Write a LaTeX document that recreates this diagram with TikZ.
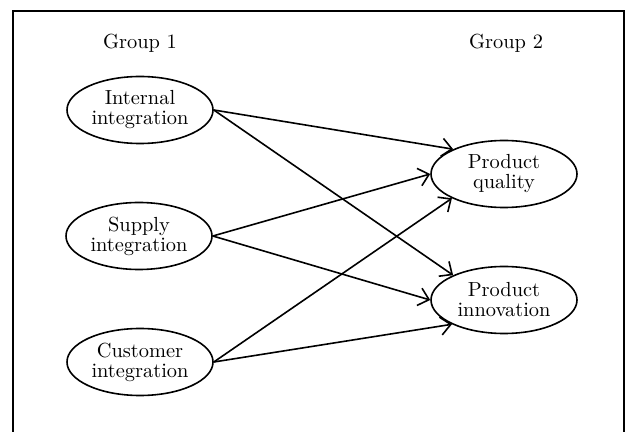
\documentclass[tikz,border=0pt]{standalone}
\usetikzlibrary{shapes.geometric, arrows.meta}

\begin{document}
\begin{tikzpicture}[x=0.5pt, y=-0.5pt]
  \tikzset{every node/.style={font=\fontsize{10.2}{10}\selectfont},
    var/.style={draw, ellipse, line width=0.8pt, inner sep=0pt,
      minimum width=73pt, minimum height=33.5pt, align=center},
    link/.style={line width=0.8pt, -{Straight Barb[length=5pt, width=9pt]}}}
  \useasboundingbox (0, 0) rectangle (626, 432);
  \draw[line width=0.6pt] (13, 432) -- (13, 11) -- (624, 11) -- (624, 432);

  \node (g1) at (140, 43) {Group 1};
  \node (g2) at (506, 43) {Group 2};

  \node[var] (internal) at (140, 110) {Internal\\integration};
  \node[var] (supply) at (139, 236) {Supply\\integration};
  \node[var] (customer) at (140, 362) {Customer\\integration};

  \node[var] (quality) at (504, 174) {Product\\quality};
  \node[var] (innovation) at (504, 300) {Product\\innovation};

  \draw[link] (internal.east) -- (quality.154);
  \draw[link] (internal.east) -- (innovation.154);
  \draw[link] (supply.east) -- (quality.west);
  \draw[link] (supply.east) -- (innovation.west);
  \draw[link] (customer.east) -- (quality.205);
  \draw[link] (customer.east) -- (innovation.205);
\end{tikzpicture}
\end{document}
